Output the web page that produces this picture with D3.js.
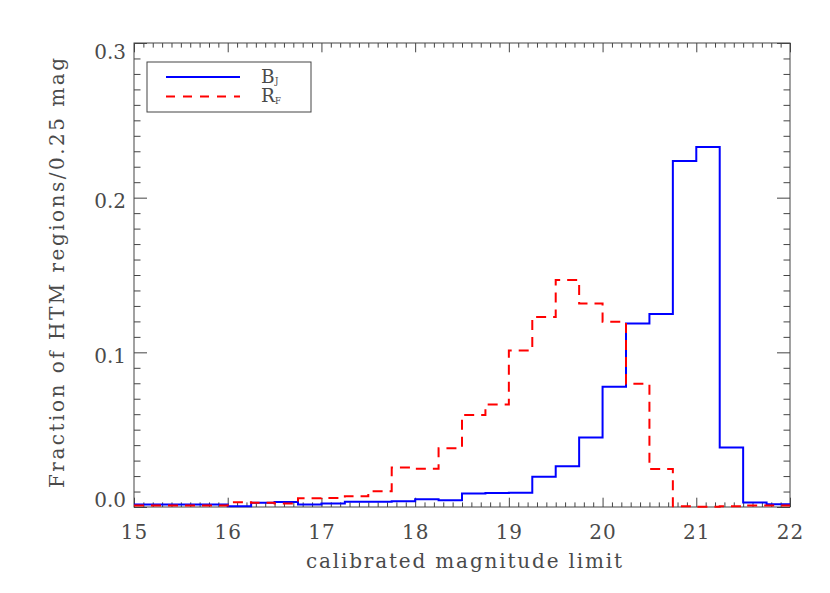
<!DOCTYPE html>
<html>
<head>
<meta charset="utf-8">
<script src="https://cdn.jsdelivr.net/npm/d3@7"></script>
<style>
  body { margin: 0; background: #fff; }
  svg { display: block; }
  text { font-family: "DejaVu Serif", "Liberation Serif", serif; fill: #4a4a4a; }
</style>
</head>
<body>
<svg id="chart" width="830" height="593"></svg>
<script>
// ---- data ----
const binEdges = [15.0,15.25,15.5,15.75,16.0,16.25,16.5,16.75,17.0,17.25,17.5,17.75,
                  18.0,18.25,18.5,18.75,19.0,19.25,19.5,19.75,20.0,20.25,20.5,20.75,
                  21.0,21.25,21.5,21.75];
const binWidth = 0.25;
const bjValues = [0.0016,0.0016,0.0016,0.0016,0.0005,0.0027,0.0032,0.0016,0.0023,0.0034,0.0034,0.0037,
                  0.0050,0.0044,0.0088,0.0090,0.0092,0.0195,0.0263,0.0450,0.0777,0.1186,0.1248,0.2237,
                  0.2328,0.0384,0.0029,0.0018];
const rfValues = [0.0010,0.0010,0.0010,0.0010,0.0030,0.0028,0.0023,0.0057,0.0058,0.0070,0.0102,0.0255,
                  0.0248,0.0380,0.0595,0.0663,0.1012,0.1229,0.1468,0.1315,0.1197,0.0797,0.0246,0.0005,
                  0.0002,0.0005,0.0010,0.0010];
const xTickValues = [15,16,17,18,19,20,21,22];
const xTickLabels = ["15","16","17","18","19","20","21","22"];
const yTickValues = [0.0,0.1,0.2,0.3];
const yTickLabels = ["0.0","0.1","0.2","0.3"];
const seriesNames = ["B", "R"];
const seriesSubs = ["J", "F"];
const xLabel = "calibrated magnitude limit";
const yLabel = "Fraction of HTM regions/0.25 mag";

// ---- layout ----
const L = 134, R = 790, T = 43, B = 507;
const svg = d3.select("#chart");
const x = d3.scaleLinear().domain([15, 22]).range([L, R]);
const y = d3.scaleLinear().domain([0, 0.3]).range([B, T]);
const axisColor = "#444";

const xMinor = d3.range(150, 221).map(d => d / 10).filter(d => Math.abs(d - Math.round(d)) > 1e-9);
const yMinor = d3.range(0, 31).map(d => d / 100).filter(d => Math.abs(d * 10 - Math.round(d * 10)) > 1e-9);

function styleAxis(g) {
  g.select(".domain").remove();
  g.selectAll("line").attr("stroke", axisColor).attr("stroke-width", 1);
}

// bottom axis major with labels
const gxb = svg.append("g").attr("transform", `translate(0,${B})`)
  .call(d3.axisBottom(x).tickValues(xTickValues).tickSize(-9.3)
        .tickFormat((d, i) => xTickLabels[i]));
styleAxis(gxb);
gxb.selectAll("text").attr("y", 0).attr("dy", 32).attr("font-size", 20)
  .attr("font-family", null).attr("letter-spacing", 1).style("fill", "#4a4a4a");
svg.append("g").attr("transform", `translate(0,${B})`)
  .call(d3.axisBottom(x).tickValues(xMinor).tickSize(-4.6).tickFormat("")).call(styleAxis);
// top axis
svg.append("g").attr("transform", `translate(0,${T})`)
  .call(d3.axisTop(x).tickValues(xTickValues).tickSize(-9.3).tickFormat("")).call(styleAxis);
svg.append("g").attr("transform", `translate(0,${T})`)
  .call(d3.axisTop(x).tickValues(xMinor).tickSize(-4.6).tickFormat("")).call(styleAxis);
// left axis with labels
const gyl = svg.append("g").attr("transform", `translate(${L},0)`)
  .call(d3.axisLeft(y).tickValues(yTickValues).tickSize(-13)
        .tickFormat((d, i) => yTickLabels[i]));
styleAxis(gyl);
const yLabelDy = [-1, 10, 10, 15];
gyl.selectAll("text").attr("x", -8).attr("dy", (d, i) => yLabelDy[i])
  .attr("font-size", 20).attr("font-family", null).attr("text-anchor", "end").style("fill", "#4a4a4a");
svg.append("g").attr("transform", `translate(${L},0)`)
  .call(d3.axisLeft(y).tickValues(yMinor).tickSize(-6.5).tickFormat("")).call(styleAxis);
// right axis
svg.append("g").attr("transform", `translate(${R},0)`)
  .call(d3.axisRight(y).tickValues(yTickValues).tickSize(-13).tickFormat("")).call(styleAxis);
svg.append("g").attr("transform", `translate(${R},0)`)
  .call(d3.axisRight(y).tickValues(yMinor).tickSize(-6.5).tickFormat("")).call(styleAxis);

// frame
svg.append("rect").attr("x", L).attr("y", T).attr("width", R - L).attr("height", B - T)
  .attr("fill", "none").attr("stroke", axisColor).attr("stroke-width", 1);

// ---- histograms ----
function stepPoints(vals) {
  const pts = binEdges.map((e, i) => [e, vals[i]]);
  pts.push([binEdges[binEdges.length - 1] + binWidth, vals[vals.length - 1]]);
  return pts;
}
const line = d3.line().x(d => x(d[0])).y(d => y(d[1])).curve(d3.curveStepAfter);
svg.append("path").datum(stepPoints(bjValues)).attr("d", line)
  .attr("fill", "none").attr("stroke", "#0000ff").attr("stroke-width", 2);
svg.append("path").datum(stepPoints(rfValues)).attr("d", line)
  .attr("fill", "none").attr("stroke", "#ff0000").attr("stroke-width", 2)
  .attr("stroke-dasharray", "10,7");

// ---- legend ----
const lg = svg.append("g");
lg.append("rect").attr("x", 147).attr("y", 62).attr("width", 164).attr("height", 50)
  .attr("fill", "#fff").attr("stroke", axisColor).attr("stroke-width", 1);
const legendColors = ["#0000ff", "#ff0000"];
const legendDash = [null, "9,8"];
seriesNames.forEach((n, i) => {
  const yy = 77 + i * 19.5;
  lg.append("line").attr("x1", 166).attr("x2", 240).attr("y1", yy).attr("y2", yy)
    .attr("stroke", legendColors[i]).attr("stroke-width", 2)
    .attr("stroke-dasharray", legendDash[i]);
  lg.append("text").attr("x", 261).attr("y", yy + 5.5).attr("font-size", 18.5).text(n);
  lg.append("text").attr("x", 275).attr("y", yy + 7).attr("font-size", 8.5).text(seriesSubs[i]);
});

// ---- axis titles ----
svg.append("text").attr("x", (L + R) / 2 + 2).attr("y", 568).attr("text-anchor", "middle")
  .attr("font-size", 20).attr("textLength", 316).attr("lengthAdjust", "spacing").text(xLabel);
svg.append("text").attr("transform", "translate(64,273) rotate(-90)").attr("text-anchor", "middle")
  .attr("font-size", 20).attr("textLength", 430).attr("lengthAdjust", "spacing").text(yLabel);
</script>
</body>
</html>
